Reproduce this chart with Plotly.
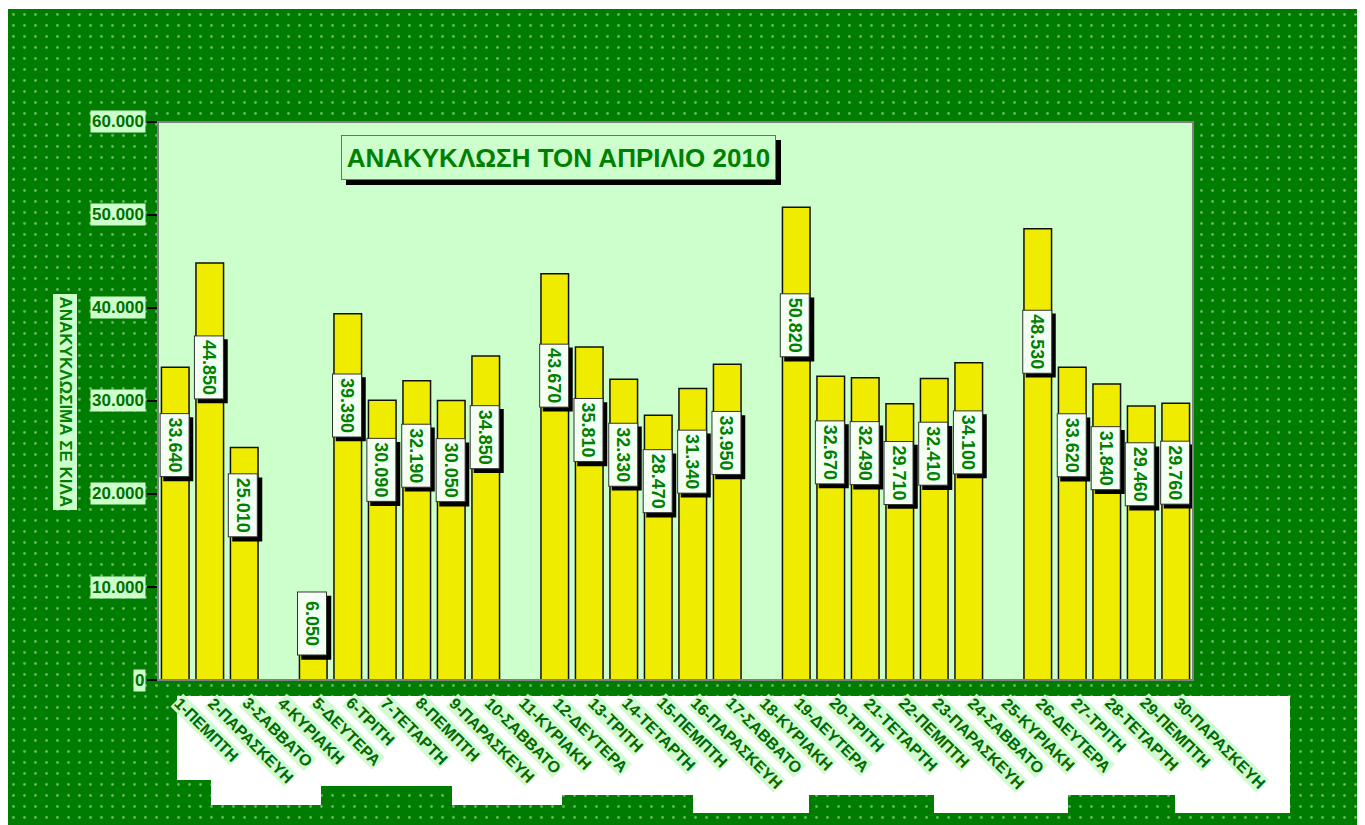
import plotly.graph_objects as go

# ---------------- data ----------------
days = ["1-ΠΕΜΠΤΗ", "2-ΠΑΡΑΣΚΕΥΗ", "3-ΣΑΒΒΑΤΟ", "4-ΚΥΡΙΑΚΗ", "5-ΔΕΥΤΕΡΑ",
        "6-ΤΡΙΤΗ", "7-ΤΕΤΑΡΤΗ", "8-ΠΕΜΠΤΗ", "9-ΠΑΡΑΣΚΕΥΗ", "10-ΣΑΒΒΑΤΟ",
        "11-ΚΥΡΙΑΚΗ", "12-ΔΕΥΤΕΡΑ", "13-ΤΡΙΤΗ", "14-ΤΕΤΑΡΤΗ", "15-ΠΕΜΠΤΗ",
        "16-ΠΑΡΑΣΚΕΥΗ", "17-ΣΑΒΒΑΤΟ", "18-ΚΥΡΙΑΚΗ", "19-ΔΕΥΤΕΡΑ", "20-ΤΡΙΤΗ",
        "21-ΤΕΤΑΡΤΗ", "22-ΠΕΜΠΤΗ", "23-ΠΑΡΑΣΚΕΥΗ", "24-ΣΑΒΒΑΤΟ", "25-ΚΥΡΙΑΚΗ",
        "26-ΔΕΥΤΕΡΑ", "27-ΤΡΙΤΗ", "28-ΤΕΤΑΡΤΗ", "29-ΠΕΜΠΤΗ", "30-ΠΑΡΑΣΚΕΥΗ"]
kilos = [33640, 44850, 25010, None, 6050,
         39390, 30090, 32190, 30050, 34850,
         None, 43670, 35810, 32330, 28470,
         31340, 33950, None, 50820, 32670,
         32490, 29710, 32410, 34100, None,
         48530, 33620, 31840, 29460, 29760]
y_ticks = [0, 10000, 20000, 30000, 40000, 50000, 60000]
title_text = "ΑΝΑΚΥΚΛΩΣΗ ΤΟΝ ΑΠΡΙΛΙΟ 2010"
y_title = "ΑΝΑΚΥΚΛΩΣΙΜΑ ΣΕ ΚΙΛΑ"

# ---------------- layout geometry (page pixels -> paper fractions) ----------------
OFF = 8                      # default body margin of the html page
W, H = 1365 - OFF, 825 - OFF
ML, MR, MT, MB = 0, 8, 1, 0
PW, PH = W - ML - MR, H - MT - MB


def px(xp):
    return (xp - OFF - ML) / PW


def py(yp):
    return (H - MB - (yp - OFF)) / PH


FONT = "Liberation Sans, Arial, sans-serif"
GREEN = "#008000"
DARK = "#007c00"
LIGHT = "#ccffcc"


def fmt(v):
    return f"{v:,}".replace(",", ".")


fig = go.Figure()

# dotted dark-green background
fig.add_trace(go.Scatter(
    x=[0, 1, 1, 0, 0], y=[0, 0, 1, 1, 0], xaxis="x", yaxis="y",
    mode="none", fill="toself", fillcolor=DARK,
    fillpattern=dict(shape=".", bgcolor=DARK, fgcolor="#c8f5c8", size=11, solidity=0.05),
    hoverinfo="skip", showlegend=False))

# bars
fig.add_trace(go.Bar(
    x=days, y=kilos, xaxis="x2", yaxis="y2",
    marker=dict(color="#f0ec00", line=dict(color="#101010", width=1.5)),
    showlegend=False, hoverinfo="x+y"))

annotations = []
shapes = []

# data labels with shadow
LBL_W, LBL_H = 58, 24          # text box before rotation
for d, v in zip(days, kilos):
    if v is None:
        continue
    yv = v * 0.75 if v > 10000 else v
    hw = (LBL_H + 6) / 2       # horizontal half size after rotation
    hh = (LBL_W + 6) / 2       # vertical half size after rotation
    shapes.append(dict(type="rect", xref="x2", yref="y2", xsizemode="pixel", ysizemode="pixel",
                       xanchor=d, yanchor=yv, x0=-1 - hw + 4, x1=-1 + hw + 4,
                       y0=-hh - 4, y1=hh - 4, fillcolor="black", line=dict(width=0),
                       layer="above"))
    annotations.append(dict(x=d, xref="x2", y=yv, yref="y2", textangle=90, showarrow=False,
                            xanchor="center", yanchor="middle",
                            xshift=-1, width=LBL_W, height=LBL_H,
                            text="<b>" + fmt(v) + "</b>", borderpad=2, borderwidth=1,
                            bgcolor="#f4fff4", bordercolor="#333333",
                            font=dict(family=FONT, size=18, color=GREEN)))

# x category labels
for d in days:
    annotations.append(dict(x=d, xref="x2", y=py(680), yref="paper", yshift=-13, xshift=-6,
                            xanchor="left", yanchor="top", textangle=45, showarrow=False,
                            text="<b>" + d + "</b>", bgcolor="#d2fbd2", borderpad=0,
                            font=dict(family=FONT, size=16, color="#006a00")))

# y tick labels
for t in y_ticks:
    annotations.append(dict(x=px(146), xref="paper", xanchor="right", y=t, yref="y2",
                            yanchor="middle", showarrow=False, text="<b>" + fmt(t) + "</b>",
                            bgcolor=LIGHT, borderpad=1,
                            font=dict(family=FONT, size=17, color="#007000")))

# y axis title
annotations.append(dict(x=px(64.5), xref="paper", y=py(402), yref="paper", textangle=90,
                        xanchor="center", yanchor="middle",
                        showarrow=False, text="<b>" + y_title + "</b>", bgcolor=LIGHT,
                        borderpad=2, font=dict(family=FONT, size=17, color=GREEN)))

# chart title box with shadow
shapes.append(dict(type="rect", xref="paper", yref="paper", x0=px(346), x1=px(781),
                   y0=py(185), y1=py(140), fillcolor="black", line=dict(width=0),
                   layer="above"))
annotations.append(dict(x=px(558.5), xref="paper", y=py(157.5), yref="paper", showarrow=False,
                        xanchor="center", yanchor="middle",
                        text="<b>" + title_text + "</b>", width=433, height=43,
                        borderpad=0, borderwidth=1, bgcolor=LIGHT, bordercolor="#339933",
                        font=dict(family=FONT, size=26, color=GREEN)))

# white area behind the category labels
white_boxes = [(177, 696, 1290, 780), (211, 780, 321, 805), (321, 780, 452, 786),
               (452, 780, 562, 805), (562, 780, 693, 795), (693, 780, 809, 813),
               (809, 780, 934, 795), (934, 780, 1068, 813), (1068, 780, 1175, 795),
               (1175, 780, 1290, 813)]
for x0, y0, x1, y1 in white_boxes:
    shapes.append(dict(type="rect", xref="paper", yref="paper", x0=px(x0), x1=px(x1),
                       y0=py(y1), y1=py(y0), fillcolor="white", line=dict(width=0),
                       layer="above"))
# grey frame of plot area
shapes.append(dict(type="rect", xref="x2 domain", yref="y2 domain", x0=0, x1=1, y0=0, y1=1,
                   line=dict(color="#808080", width=2), layer="above"))

fig.update_layout(
    width=W, height=H,
    margin=dict(l=ML, r=MR, t=MT, b=MB, pad=0),
    paper_bgcolor="white", plot_bgcolor=LIGHT,
    bargap=0.2,
    xaxis=dict(domain=[0, 1], range=[0, 1], visible=False, fixedrange=True),
    yaxis=dict(domain=[0, 1], range=[0, 1], visible=False, fixedrange=True),
    xaxis2=dict(domain=[px(158), px(1193)], anchor="y2", type="category",
                range=[-0.5, len(days) - 0.5], showticklabels=False, showgrid=False,
                ticks="", showline=False, zeroline=False),
    yaxis2=dict(domain=[py(680), py(122)], anchor="x2", range=[0, 60000],
                tickvals=y_ticks, showticklabels=False, showgrid=False, zeroline=False,
                ticks="outside", ticklen=10, tickcolor="black", tickwidth=1.5,
                showline=True, linecolor="black", linewidth=1),
    annotations=annotations,
    shapes=shapes,
    font=dict(family=FONT),
)

fig.write_html("out.html")
